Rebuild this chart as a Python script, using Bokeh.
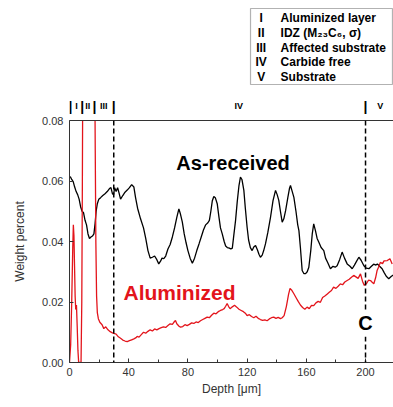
from bokeh.plotting import figure
from bokeh.layouts import column
from bokeh.models import Range1d, LinearAxis, Label, Span, BoxAnnotation, FixedTicker, PrintfTickFormatter
from bokeh.embed import file_html
from bokeh.resources import INLINE

# ---------------- data ----------------
as_x = [0.5, 1.5, 2.5, 3.5, 4.5, 5.5, 6.5, 7.5, 8.5, 9.5, 10.5, 11.5, 12.5, 13.5, 14.5, 15.5, 16.5, 17.3, 18.0, 18.8,
        19.8, 21, 22.5, 24, 25.5, 27, 28, 29, 29.8, 30.5, 31.5, 32.5, 33.5, 34.5, 36, 37.5, 39, 40.5, 42, 43.5,
        44.6, 46, 48, 50, 51.5, 53, 54.5, 56, 57.5, 59, 60.3, 61.5, 62.5, 63.7, 65, 66.5, 68, 69.5, 71, 72.5,
        73.9, 75, 76.2, 77.5, 78.8, 80, 81.5, 83, 84.5, 86, 87.5, 89, 90.5, 92, 93.5, 94.5, 95.5, 96.5, 97.5, 98.5,
        99.8, 101, 102, 103.2, 104.5, 105.5, 106.6, 108, 109, 110, 111, 112.2, 113.3, 114.5, 115.5, 116.5, 117.8, 118.8, 120, 121,
        122.2, 123.4, 124.5, 125.7, 127, 128, 129, 130.2, 131.2, 132.4, 134, 135.8, 137.5, 139.2, 140.3, 141.4, 142.5, 143.7, 144.8, 146,
        147.5, 148.6, 149.3, 150.5, 151.6, 153, 154.2, 155, 156, 157.2, 158.3, 159.5, 160.6, 161.7, 163, 164, 165, 166.2, 167.3, 168.4,
        170, 171.8, 173, 174.5, 176.3, 178, 179.5, 180.8, 182.5, 184.2, 185.8, 187.6, 189.5, 191, 192.5, 194, 195.5, 197, 198.9, 200.5,
        202.3, 204, 205.5, 207, 208, 209.5, 211.2, 212.5, 214, 215.7, 217.5, 219]
as_y = [0.0615, 0.0605, 0.0598, 0.058, 0.0565, 0.0555, 0.054, 0.0515, 0.050, 0.0495, 0.047, 0.0455, 0.0425, 0.041, 0.0415, 0.0418, 0.0425, 0.046, 0.050, 0.0525,
        0.054, 0.0545, 0.0552, 0.0558, 0.0565, 0.0575, 0.0578, 0.0558, 0.0555, 0.0578, 0.0565, 0.0578, 0.056, 0.054, 0.0552, 0.0563, 0.057, 0.0578, 0.0588, 0.058,
        0.0546, 0.051, 0.0475, 0.0445, 0.041, 0.037, 0.0345, 0.0348, 0.0352, 0.034, 0.0326, 0.0335, 0.0345, 0.0343, 0.0352, 0.0375, 0.039, 0.0415, 0.0445, 0.048,
        0.0508, 0.049, 0.0465, 0.0425, 0.0395, 0.037, 0.0345, 0.0328, 0.0345, 0.037, 0.0392, 0.0415, 0.0438, 0.0455, 0.0462, 0.047, 0.050, 0.0535, 0.0549, 0.0545,
        0.0525, 0.048, 0.0445, 0.0425, 0.040, 0.0385, 0.038, 0.0378, 0.0375, 0.0378, 0.042, 0.047, 0.053, 0.0585, 0.0613, 0.0605, 0.0569, 0.051, 0.0447, 0.0405,
        0.038, 0.037, 0.0382, 0.0387, 0.0372, 0.0358, 0.0348, 0.0355, 0.037, 0.0392, 0.043, 0.048, 0.0535, 0.0569, 0.0555, 0.0536, 0.050, 0.0464, 0.0475, 0.0502,
        0.0545, 0.0575, 0.0585, 0.0565, 0.0546, 0.050, 0.0455, 0.0436, 0.038, 0.0304, 0.0294, 0.0294, 0.030, 0.0315, 0.037, 0.0425, 0.0458, 0.0435, 0.041, 0.0398,
        0.038, 0.037, 0.0345, 0.033, 0.031, 0.0318, 0.0315, 0.032, 0.034, 0.0365, 0.0345, 0.0326, 0.0318, 0.031, 0.0322, 0.0335, 0.0348, 0.0338, 0.032, 0.0312,
        0.031, 0.0318, 0.0325, 0.0322, 0.0326, 0.0318, 0.031, 0.0298, 0.0285, 0.0277, 0.0285, 0.029]

al_x = [0.0, 0.8, 1.5, 2.2, 2.6, 3.0, 3.4, 3.8, 4.2, 4.7, 5.2, 5.7, 6.2, 7.8, 8.3, 8.7, 9.0, 9.5, 16.5, 17.0,
        17.4, 17.8, 18.3, 18.8, 19.5, 20.5, 22, 23.2, 24.5, 26, 27.5, 29, 30, 31.5, 33, 34.5, 36, 37.5, 39, 40.5,
        42, 43.5, 45, 45.7, 47, 48.5, 50, 51.5, 53, 54.5, 56, 57.5, 59, 60.5, 62, 63.5, 65, 66.5, 68, 69.5,
        70.5, 71.6, 72.5, 74, 75, 76.5, 78, 79.5, 81, 82.5, 84, 85.5, 87, 88.5, 90, 91.5, 93, 94.5, 96, 97.5,
        99, 100.5, 102, 103.5, 104.5, 105.5, 106.5, 107.5, 108.5, 110, 111.5, 113, 114.5, 116, 117.5, 118.8, 120, 121.5, 123, 124.5,
        126, 127.5, 129, 130.5, 132, 133.5, 135, 136.5, 138, 139.5, 141, 142.5, 143.7, 145, 146.5, 148, 149, 150, 151.5, 153,
        154.5, 156, 157.5, 159, 160.5, 162, 163.5, 165, 166.5, 168, 169.5, 171, 172.5, 174, 175.5, 177, 178.4, 180, 181.5, 183,
        184.5, 186, 187.6, 189, 190.5, 192, 193.5, 195, 196.6, 198, 199.2, 200.5, 202, 203.4, 204.5, 205.6, 206.8, 207.8, 208.8, 210,
        211.5, 212.5, 214.7, 216.5, 218]
al_y = [0.0, 0.006, 0.02, 0.038, 0.0455, 0.042, 0.032, 0.022, 0.0175, 0.019, 0.012, 0.004, 0.0, 0.0, 0.02, 0.06, 0.1, 0.13, 0.13, 0.1,
        0.07, 0.04, 0.022, 0.0165, 0.0145, 0.0133, 0.0125, 0.0112, 0.0118, 0.0108, 0.0102, 0.0098, 0.0096, 0.0094, 0.0085, 0.008, 0.0074, 0.0071, 0.0069, 0.0072,
        0.0075, 0.0078, 0.0082, 0.0086, 0.0084, 0.0092, 0.010, 0.0097, 0.0103, 0.0108, 0.0104, 0.0111, 0.0108, 0.0112, 0.0115, 0.0118, 0.0116, 0.0122, 0.0128, 0.0126,
        0.0133, 0.0139, 0.0128, 0.012, 0.0117, 0.0119, 0.0125, 0.0122, 0.0126, 0.0131, 0.0129, 0.0134, 0.0132, 0.0138, 0.0142, 0.0146, 0.015, 0.0148, 0.0156, 0.0163,
        0.0161, 0.0168, 0.0172, 0.0175, 0.0178, 0.0186, 0.0195, 0.0185, 0.0178, 0.0184, 0.0189, 0.0183, 0.0176, 0.0172, 0.0168, 0.0163, 0.0155, 0.0158, 0.0152, 0.0148,
        0.0153, 0.0146, 0.0142, 0.0139, 0.0141, 0.0138, 0.0144, 0.0148, 0.015, 0.0146, 0.0149, 0.0145, 0.0148, 0.0155, 0.0185, 0.0225, 0.0245, 0.024, 0.0228, 0.0215,
        0.0202, 0.019, 0.0182, 0.0176, 0.0183, 0.0178, 0.0189, 0.0188, 0.0197, 0.0202, 0.0199, 0.0215, 0.022, 0.0226, 0.0232, 0.0238, 0.0249, 0.0245, 0.0252, 0.026,
        0.0257, 0.0266, 0.0271, 0.0275, 0.0282, 0.0288, 0.0283, 0.0278, 0.0293, 0.0268, 0.0255, 0.026, 0.0272, 0.0271, 0.0265, 0.026, 0.028, 0.0304, 0.0315, 0.0331,
        0.0327, 0.0336, 0.0337, 0.0343, 0.0326]

x_ticks = [0, 40, 80, 120, 160, 200]
x_minor = [20, 60, 100, 140, 180]
y_ticks = [0.00, 0.02, 0.04, 0.06, 0.08]

region_edges = [0.7, 8.6, 16.9, 29.9, 200]
region_names = ["I", "II", "III", "IV", "V"]
region_centers = [4.7, 12.4, 23.2, 114.4, 210]
region_desc = ["Aluminized layer", "IDZ (M\u2082\u2083C\u2086, \u03c3)", "Affected substrate", "Carbide free", "Substrate"]
dashed_at = [29.9, 200]

RED = "#e3141b"
FONT = "Liberation Sans"
GREY = "#333333"

X_END = 218.9          # depth at the right edge of the window
TOP_H = 114            # height of the header strip

# ---------------- header strip (region key + region markers) ----------------
hdr = figure(width=393, height=TOP_H, output_backend="svg", toolbar_location=None,
             x_range=Range1d(0, X_END), y_range=Range1d(TOP_H, 0),
             min_border_left=69, min_border_right=0, min_border_top=0, min_border_bottom=0)
hdr.axis.visible = False
hdr.grid.visible = False
hdr.outline_line_color = None
hdr.background_fill_color = "white"
hdr.border_fill_color = "white"

hdr.add_layout(BoxAnnotation(left=122.3, right=218.2, top=8, bottom=84,
                             fill_color=None, line_color="black", line_width=1.2))
row_y = [17, 32, 47, 61.5, 76]
for ry, nm, ds in zip(row_y, region_names, region_desc):
    hdr.add_layout(Label(x=129.5, y=ry, text=nm, text_font=FONT, text_font_size="12px", text_font_style="bold",
                         text_color="black", text_align="center", text_baseline="middle"))
    hdr.add_layout(Label(x=142.6, y=ry, text=ds, text_font=FONT, text_font_size="12px", text_font_style="bold",
                         text_color="black", text_align="left", text_baseline="middle"))

for xe in region_edges:
    hdr.add_layout(Label(x=xe, y=106, text="|", text_font=FONT, text_font_size="14px", text_font_style="bold",
                         text_color="black", text_align="center", text_baseline="middle"))
for xc, nm in zip(region_centers, region_names):
    hdr.add_layout(Label(x=xc, y=105, text=nm, text_font=FONT, text_font_size="9px", text_font_style="bold",
                         text_color="black", text_align="center", text_baseline="middle"))

# ---------------- main plot ----------------
p = figure(width=393, height=407 - TOP_H, output_backend="svg", toolbar_location=None,
           x_range=Range1d(0, X_END), y_range=Range1d(0, 0.08),
           min_border_left=69, min_border_top=6, min_border_bottom=45, min_border_right=0)
p.outline_line_color = None
p.xgrid.visible = False
p.ygrid.visible = False
p.background_fill_color = "white"
p.border_fill_color = "white"

p.line(as_x, as_y, line_color="black", line_width=1.3)
p.line(al_x, al_y, line_color=RED, line_width=1.3)

for xv in dashed_at:
    p.add_layout(Span(location=xv, dimension="height", line_color="black", line_dash="5 3", line_width=1.5))

p.xaxis.ticker = FixedTicker(ticks=x_ticks, minor_ticks=x_minor)
p.yaxis.ticker = FixedTicker(ticks=y_ticks)
p.yaxis.formatter = PrintfTickFormatter(format="%.2f")
for ax in (p.xaxis, p.yaxis):
    ax.major_tick_in = 4
    ax.major_tick_out = 0
    ax.minor_tick_in = 3
    ax.minor_tick_out = 0
    ax.axis_line_color = GREY
    ax.major_tick_line_color = GREY
    ax.minor_tick_line_color = GREY
    ax.major_label_text_font = FONT
    ax.major_label_text_font_size = "11px"
    ax.major_label_text_color = GREY
    ax.axis_label_text_font = FONT
    ax.axis_label_text_font_size = "12px"
    ax.axis_label_text_font_style = "normal"
    ax.axis_label_text_color = GREY
p.yaxis.minor_tick_line_color = None
p.xaxis.axis_label = "Depth [\u03bcm]"
p.yaxis.axis_label = "Weight percent"
p.xaxis.major_label_standoff = 5
p.xaxis.axis_label_standoff = 3
p.yaxis.major_label_standoff = 6
p.yaxis.axis_label_standoff = 12

top = LinearAxis(axis_line_color=GREY, major_tick_line_color=None, minor_tick_line_color=None,
                 major_label_text_font_size="0px", major_label_standoff=0, ticker=FixedTicker(ticks=[]))
p.add_layout(top, "above")

p.add_layout(Label(x=110.5, y=0.0658, text="As-received", text_font=FONT, text_font_size="20px",
                   text_font_style="bold", text_color="black", text_align="center", text_baseline="middle"))
p.add_layout(Label(x=74.3, y=0.023, text="Aluminized", text_font=FONT, text_font_size="21px",
                   text_font_style="bold", text_color=RED, text_align="center", text_baseline="middle"))
p.add_layout(Label(x=200, y=0.0129, text="C", text_font=FONT, text_font_size="20px",
                   text_font_style="bold", text_color="black", text_align="center", text_baseline="middle",
                   background_fill_color="white", padding=2))

open("out.html", "w").write(file_html(column(hdr, p, spacing=0), INLINE))
